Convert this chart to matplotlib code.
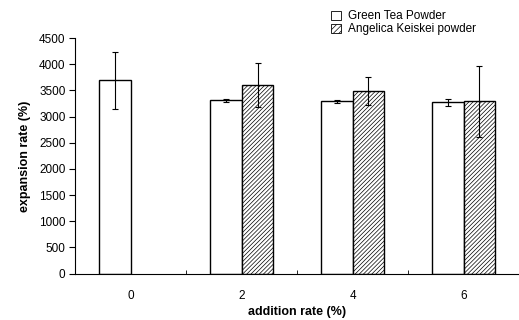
import numpy as np
from matplotlib import pyplot as plt
from matplotlib.patches import Patch

plt.rcParams['font.family'] = ['Liberation Sans', 'DejaVu Sans']
plt.rcParams['hatch.color'] = '#444444'
plt.rcParams['hatch.linewidth'] = 0.5

rates = ["0", "2", "4", "6"]
green_tea = [3690, 3310, 3290, 3270]
green_tea_err = [540, 25, 25, 75]
angelica = [0, 3610, 3490, 3290]
angelica_err = [0, 420, 270, 680]

x = np.arange(len(rates))
w = 0.286

fig = plt.figure(figsize=(5.19, 3.2), dpi=100)
ax = fig.add_axes([0.145, 0.145, 0.855, 0.736])

ax.bar(x - w / 2, green_tea, w, color="white", edgecolor="black", linewidth=1.0,
       yerr=green_tea_err, error_kw=dict(ecolor="black", elinewidth=0.8, capsize=2, capthick=0.8))
ax.bar(x[1:] + w / 2, angelica[1:], w, color="white", edgecolor="black", linewidth=1.0,
       hatch="////////", yerr=angelica_err[1:],
       error_kw=dict(ecolor="black", elinewidth=0.8, capsize=2, capthick=0.8))

ax.set_xlim(-0.5, 3.5)
ax.set_ylim(0, 4500)
ax.set_yticks(np.arange(0, 4501, 500))
ax.set_xticks(x)
ax.set_xticklabels(rates)
ax.set_xticks(x[:-1] + 0.5, minor=True)
ax.tick_params(axis="x", which="major", length=0, pad=12, labelsize=8.5)
ax.tick_params(axis="x", which="minor", direction="in", length=3)
ax.tick_params(axis="y", direction="out", length=4, labelsize=8.5, pad=3)

for s in ["top", "right"]:
    ax.spines[s].set_visible(False)

ax.set_ylabel("expansion rate (%)", fontsize=9, fontweight="bold", labelpad=6)
ax.set_xlabel("addition rate (%)", fontsize=9, fontweight="bold", labelpad=3)

handles = [Patch(facecolor="white", edgecolor="black", linewidth=0.6),
           Patch(facecolor="white", edgecolor="black", linewidth=0.6, hatch="//////")]
fig.legend(handles, ["Green Tea Powder", "Angelica Keiskei powder"], loc="upper left",
           bbox_to_anchor=(0.625, 0.99), frameon=False, fontsize=8.5,
           handlelength=0.8, handleheight=0.8, handletextpad=0.6, labelspacing=0.1,
           borderaxespad=0.2)

fig.savefig("out.png", dpi=100)
